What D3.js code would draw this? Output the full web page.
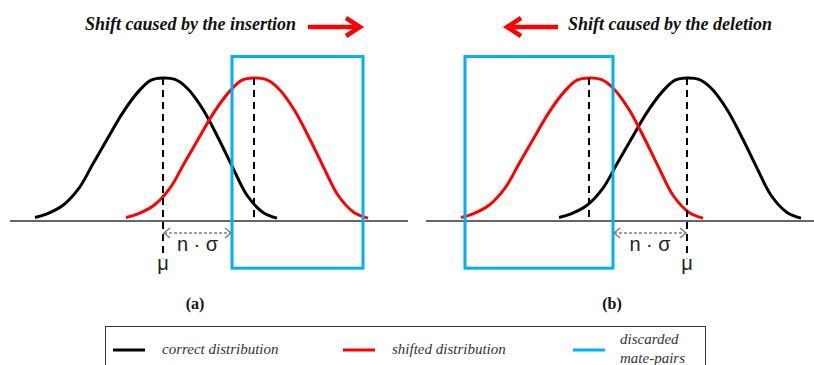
<!DOCTYPE html>
<html>
<head>
<meta charset="utf-8">
<script src="https://cdn.jsdelivr.net/npm/d3@7"></script>
<style>
  html, body { margin: 0; padding: 0; background: #fff; }
  svg { display: block; }
</style>
</head>
<body>
<svg id="chart" width="814" height="365"></svg>
<script>
// Shape of the insert-size distribution: offset from the mean and relative density
const profileOffset  = [-32, -29, -25, -21, -17.5, -14, -10, -6, -3, 0, 3, 6, 10, 14, 17.5, 21, 25, 28.5];
const profileDensity = [0.025, 0.05, 0.11, 0.23, 0.40, 0.57, 0.76, 0.91, 0.985, 1, 0.99, 0.93, 0.78, 0.57, 0.37, 0.18, 0.06, 0.02];

// Panels: (a) insertion, (b) deletion
const panelIds      = ["a", "b"];
const panelTitles   = ["Shift caused by the insertion", "Shift caused by the deletion"];
const correctMeans  = [38.25, 68.25];
const shiftedMeans  = [61, 43.75];
const discardFrom   = [55.5, 12.75];
const discardTo     = [88.25, 49.75];
const baselineFrom  = [0, 3];
const baselineTo    = [99.5, 100];
const boxTop        = 1.15;
const boxBottom     = -0.33;
const muLineDepth   = -0.26;

// Legend
const legendLabels = [["correct distribution"], ["shifted distribution"], ["discarded", "mate-pairs"]];
const legendColors = ["#000000", "#ff0000", "#00b0f0"];

const svg = d3.select("#chart");
const colCorrect = "#000000", colShifted = "#ff0000", colBox = "#00b0f0";

const y = d3.scaleLinear().domain([0, 1]).range([221, 78]);
const panelRanges = [[10, 410], [414, 814]];

const line = (x) => d3.line()
  .x(d => x(d[0]))
  .y(d => y(d[1]))
  .curve(d3.curveCatmullRom.alpha(0.5));

const curvePoints = (mean) => profileOffset.map((o, i) => [mean + o, profileDensity[i]]);

panelIds.forEach((id, p) => {
  const x = d3.scaleLinear().domain([0, 100]).range(panelRanges[p]);
  const g = svg.append("g").attr("class", "panel-" + id);

  // baseline
  g.append("line")
    .attr("x1", x(baselineFrom[p])).attr("x2", x(baselineTo[p]))
    .attr("y1", y(0)).attr("y2", y(0))
    .attr("stroke", "#333").attr("stroke-width", 1.3);

  // distributions
  g.append("path").datum(curvePoints(correctMeans[p]))
    .attr("d", line(x)).attr("fill", "none")
    .attr("stroke", colCorrect).attr("stroke-width", 3);
  g.append("path").datum(curvePoints(shiftedMeans[p]))
    .attr("d", line(x)).attr("fill", "none")
    .attr("stroke", colShifted).attr("stroke-width", 3);

  // mean markers
  g.append("line")
    .attr("x1", x(shiftedMeans[p])).attr("x2", x(shiftedMeans[p]))
    .attr("y1", y(1)).attr("y2", y(0))
    .attr("stroke", "#000").attr("stroke-width", 2).attr("stroke-dasharray", "7,5");
  g.append("line")
    .attr("x1", x(correctMeans[p])).attr("x2", x(correctMeans[p]))
    .attr("y1", y(1)).attr("y2", y(muLineDepth))
    .attr("stroke", "#000").attr("stroke-width", 2).attr("stroke-dasharray", "7,5");

  // discarded region
  g.append("rect")
    .attr("x", x(discardFrom[p])).attr("y", y(boxTop))
    .attr("width", x(discardTo[p]) - x(discardFrom[p]))
    .attr("height", y(boxBottom) - y(boxTop))
    .attr("fill", "none").attr("stroke", colBox).attr("stroke-width", 3);

  // n·σ span between the mean and the discard threshold
  const a0 = id === "a" ? x(correctMeans[p]) : x(discardTo[p]);
  const a1 = id === "a" ? x(discardFrom[p]) : x(correctMeans[p]);
  const ay = 233;
  const arrow = g.append("g").attr("stroke", "#808080").attr("fill", "none").attr("stroke-width", 1.5);
  arrow.append("line").attr("x1", a0 + 1).attr("x2", a1 - 1).attr("y1", ay).attr("y2", ay)
    .attr("stroke-dasharray", "3,2");
  arrow.append("path").attr("d", `M${a0 + 7},${ay - 5}L${a0 + 1},${ay}L${a0 + 7},${ay + 5}`);
  arrow.append("path").attr("d", `M${a1 - 7},${ay - 5}L${a1 - 1},${ay}L${a1 - 7},${ay + 5}`);
  g.append("text")
    .attr("x", (a0 + a1) / 2).attr("y", 251)
    .attr("text-anchor", "middle")
    .attr("font-family", "'Liberation Sans', Arial, sans-serif")
    .attr("font-size", 20).attr("fill", "#222")
    .text("n · σ");

  // μ label
  g.append("text")
    .attr("x", x(correctMeans[p])).attr("y", 270)
    .attr("text-anchor", "middle")
    .attr("font-family", "'Liberation Sans', Arial, sans-serif")
    .attr("font-size", 20).attr("fill", "#222")
    .text("μ");

  // sub-figure label
  g.append("text")
    .attr("x", id === "a" ? 195 : 612).attr("y", 309)
    .attr("text-anchor", "middle")
    .attr("font-family", "'Liberation Serif', 'Times New Roman', serif")
    .attr("font-weight", "bold").attr("font-size", 16).attr("fill", "#111")
    .text("(" + id + ")");

  // title with shift direction
  const title = g.append("text")
    .attr("y", 30)
    .attr("font-family", "'Liberation Serif', 'Times New Roman', serif")
    .attr("font-weight", "bold").attr("font-style", "italic")
    .attr("font-size", 18).attr("fill", "#111")
    .text(panelTitles[p]);
  const red = g.append("g").attr("stroke", "#ff0000").attr("fill", "none")
    .attr("stroke-width", 4.5).attr("stroke-linecap", "butt").attr("stroke-linejoin", "miter");
  if (id === "a") {
    title.attr("x", 85);
    red.append("line").attr("x1", 308).attr("x2", 358).attr("y1", 27).attr("y2", 27);
    red.append("path").attr("d", "M346,18L360,27L346,36");
  } else {
    title.attr("x", 568);
    red.append("line").attr("x1", 558).attr("x2", 509).attr("y1", 27).attr("y2", 27);
    red.append("path").attr("d", "M521,18L507,27L521,36");
  }
});

// legend
const legend = svg.append("g").attr("class", "legend");
legend.append("rect")
  .attr("x", 105.5).attr("y", 326.5).attr("width", 600).attr("height", 60)
  .attr("fill", "none").attr("stroke", "#333").attr("stroke-width", 1);
const legendX = d3.scalePoint().domain(d3.range(legendLabels.length)).range([113, 573]);
legendLabels.forEach((lab, i) => {
  const lx = legendX(i);
  legend.append("line")
    .attr("x1", lx).attr("x2", lx + 32).attr("y1", 350).attr("y2", 350)
    .attr("stroke", legendColors[i]).attr("stroke-width", 3);
  const t = legend.append("text")
    .attr("font-family", "'Liberation Serif', 'Times New Roman', serif")
    .attr("font-style", "italic").attr("font-size", 15).attr("fill", "#333");
  if (lab.length === 1) {
    t.attr("x", lx + 49).attr("y", 354).text(lab[0]);
  } else {
    t.append("tspan").attr("x", lx + 47).attr("y", 344).text(lab[0]);
    t.append("tspan").attr("x", lx + 47).attr("y", 363).text(lab[1]);
  }
});
</script>
</body>
</html>
